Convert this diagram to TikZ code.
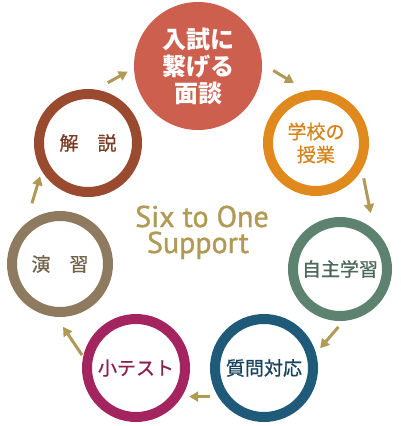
\documentclass[tikz,border=0pt]{standalone}
\usepackage{fontspec}
\usepackage{tikz}
\usepackage{xcolor}
\usetikzlibrary{arrows.meta}

\newfontfamily\jpfont{Noto Sans CJK JP}
\newfontfamily\jpmedium[FakeBold=0.8]{Noto Sans CJK JP}
\newfontfamily\enfont[FakeBold=1.2]{PT Sans}

\definecolor{topred}{HTML}{CD5F4F}
\definecolor{ringorange}{HTML}{E08A1E}
\definecolor{ringgreen}{HTML}{5E8270}
\definecolor{ringblue}{HTML}{1F5A78}
\definecolor{ringmagenta}{HTML}{A3245E}
\definecolor{ringtan}{HTML}{8E7A5E}
\definecolor{ringbrown}{HTML}{9A4A2E}
\definecolor{arrowgold}{HTML}{B09A55}

\tikzset{
	ring/.style={circle, draw=#1, line width=10pt, fill=white, inner sep=0pt,
		font=\jpmedium\fontsize{19}{23}\selectfont, align=center},
	flow/.style={arrowgold, line width=3pt, -{Triangle[length=9pt, width=10pt]}},
	title/.style={text=arrowgold, anchor=base, inner sep=0pt, font=\enfont\fontsize{30}{30}\selectfont}
}

\begin{document}
\begin{tikzpicture}[x=1pt, y=-1pt]
			\useasboundingbox (0,0) rectangle (400,426);

			% Draw the interview circle at the top
			\node[circle, fill=topred, minimum size=128pt, inner sep=0pt, text=white, align=center,
				font=\jpfont\bfseries\fontsize{24}{27}\selectfont] (mendan) at (198,66) {入試に\\繋げる\\面談};

			% Draw the six rings around it
			\node[ring=ringorange, minimum size=96pt, text=ringorange!95!black] (jugyo) at (316,143) {学校の\\授業};
			\node[ring=ringgreen, minimum size=94pt, text=ringgreen!80!black] (jishu) at (340,269) {自主学習};
			\node[ring=ringblue, minimum size=98pt, text=ringblue!75!black] (shitsumon) at (264,368) {質問対応};
			\node[ring=ringmagenta, minimum size=98pt, text=ringmagenta!85!black] (shotest) at (136,368) {小テスト};
			\node[ring=ringtan, minimum size=96pt, text=ringtan!80!black] (enshu) at (60,264) {演　習};
			\node[ring=ringbrown, minimum size=98pt, text=ringbrown!80!black] (kaisetsu) at (88,143) {解　説};

			% Draw the title in the middle
			\node[title] (title) at (202,227) {Six to One};
			\node[title] (subtitle) at (198,253) {Support};

			% Draw the arrows of the cycle
			\draw[flow, shorten <=13pt, shorten >=15pt] (mendan.2.5) -- (jugyo.100);
			\draw[flow, shorten <=9pt, shorten >=17pt] (jugyo.-30) -- (jishu.49);
			\draw[flow, shorten <=8pt, shorten >=6.5pt] (jishu.-86) -- (shitsumon.16);
			\draw[flow, shorten <=8.4pt, shorten >=7.4pt] (shitsumon.212) -- (shotest.-32);
			\draw[flow, shorten <=2pt, shorten >=12pt] (shotest.168) -- (enshu.-94);
			\draw[flow, shorten <=21pt, shorten >=5.7pt] (enshu.130) -- (kaisetsu.211);
			\draw[flow, shorten <=14pt, shorten >=7pt] (kaisetsu.82) -- (mendan.182);
		\end{tikzpicture}
\end{document}
